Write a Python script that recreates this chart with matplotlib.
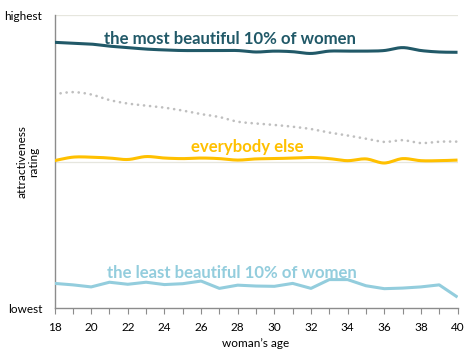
import numpy as np
import matplotlib
matplotlib.use("Agg")
import matplotlib.pyplot as plt
from matplotlib.ticker import FixedLocator

# ---- data (attractiveness rating, 0 = lowest, 100 = highest) ----
ages = list(range(18, 41))
most_beautiful = [90.7, 90.4, 90.1, 89.4, 88.9, 88.4, 88.1, 87.9, 87.9, 87.9, 87.9, 87.4,
                  87.7, 87.5, 86.9, 87.7, 87.7, 87.7, 87.9, 88.9, 87.9, 87.4, 87.3]
all_women = [73.0, 73.7, 72.9, 71.0, 69.8, 69.1, 68.4, 67.4, 66.2, 65.2, 63.6, 63.0,
             62.5, 61.9, 61.1, 59.9, 58.9, 57.8, 56.7, 57.3, 56.3, 56.8, 56.8]
everybody_else = [50.3, 51.5, 51.5, 51.2, 50.7, 51.7, 51.2, 51.0, 51.2, 51.0, 50.5, 50.9,
                  51.0, 51.2, 51.4, 51.0, 50.3, 50.9, 49.5, 51.0, 50.3, 50.3, 50.5]
least_beautiful = [8.4, 7.9, 7.2, 8.8, 8.1, 8.8, 8.0, 8.3, 9.2, 6.7, 7.8, 7.5,
                   7.4, 8.4, 6.7, 9.7, 9.7, 7.6, 6.6, 6.8, 7.2, 7.9, 3.7]
x_tick_labels = [str(a) if a % 2 == 0 else "" for a in ages]
y_tick_values = [0, 100]
y_tick_labels = ["lowest", "highest"]

C_DARK = "#215968"
C_YELLOW = "#FFC000"
C_LIGHT = "#93CDDD"
C_GREY = "#BFBFBF"
FONT = "Lato"


def smooth(x, y, n=12):
    """Excel-style smoothed line (Catmull-Rom through the data points)."""
    x = np.asarray(x, float)
    y = np.asarray(y, float)
    px = np.concatenate([[x[0]], x, [x[-1]]])
    py = np.concatenate([[y[0]], y, [y[-1]]])
    xs, ys = [], []
    t = np.linspace(0, 1, n, endpoint=False)
    for i in range(1, len(px) - 2):
        p0x, p1x, p2x, p3x = px[i - 1], px[i], px[i + 1], px[i + 2]
        p0y, p1y, p2y, p3y = py[i - 1], py[i], py[i + 1], py[i + 2]
        c1x, c1y = p1x + (p2x - p0x) / 6, p1y + (p2y - p0y) / 6
        c2x, c2y = p2x - (p3x - p1x) / 6, p2y - (p3y - p1y) / 6
        bx = (1 - t) ** 3 * p1x + 3 * (1 - t) ** 2 * t * c1x + 3 * (1 - t) * t ** 2 * c2x + t ** 3 * p2x
        by = (1 - t) ** 3 * p1y + 3 * (1 - t) ** 2 * t * c1y + 3 * (1 - t) * t ** 2 * c2y + t ** 3 * p2y
        xs.extend(bx)
        ys.extend(by)
    xs.append(x[-1])
    ys.append(y[-1])
    return np.array(xs), np.array(ys)


fig = plt.figure(figsize=(4.66, 3.51), dpi=100)
ax = fig.add_axes([0.117, 0.1225, 0.8648, 0.8345])

ax.set_xlim(18, 40)
ax.set_ylim(0, 100)

# gridlines
for gy in (50, 100):
    ax.axhline(gy, color="#E6E6DE", lw=0.9, zorder=0)

sx, sy = smooth(ages, all_women)
ax.plot(sx, sy, color=C_GREY, lw=1.9, linestyle=(0, (0.05, 2.25)),
        dash_capstyle="round", zorder=2)
sx, sy = smooth(ages, most_beautiful)
ax.plot(sx, sy, color=C_DARK, lw=2.2, solid_capstyle="butt", zorder=3)
sx, sy = smooth(ages, everybody_else)
ax.plot(sx, sy, color=C_YELLOW, lw=2.2, solid_capstyle="butt", zorder=3)
ax.plot(ages, least_beautiful, color=C_LIGHT, lw=2.2, solid_capstyle="butt", zorder=3)

# annotations
ax.text(27.6, 92.0, "the most beautiful 10% of women", color=C_DARK, fontsize=12.1,
        fontweight="bold", family=FONT, ha="center", va="center")
ax.text(28.5, 55.0, "everybody else", color=C_YELLOW, fontsize=12.1,
        fontweight="bold", family=FONT, ha="center", va="center")
ax.text(27.7, 11.8, "the least beautiful 10% of women", color=C_LIGHT, fontsize=12.1,
        fontweight="bold", family=FONT, ha="center", va="center")

# axes styling
for s in ("top", "right"):
    ax.spines[s].set_visible(False)
for s in ("left", "bottom"):
    ax.spines[s].set_color("#8C8C8C")
    ax.spines[s].set_linewidth(1.0)

ax.xaxis.set_major_locator(FixedLocator(ages))
ax.set_xticklabels(x_tick_labels, family=FONT, fontsize=8.5)
ax.tick_params(axis="x", direction="out", length=4, width=0.8, color="#8C8C8C", pad=6)

ax.set_yticks(y_tick_values)
ax.set_yticklabels(y_tick_labels, family=FONT, fontsize=8.5)
ax.tick_params(axis="y", length=0, pad=9)

ax.set_xlabel("woman\u2019s age", family=FONT, fontsize=8.5, labelpad=4)
ax.set_ylabel("attractiveness\nrating", family=FONT, fontsize=8.5,
              linespacing=1.1)
ax.yaxis.label.set_va("center")
ax.yaxis.set_label_coords(-0.066, 0.5)

fig.savefig("out.png", dpi=100)
